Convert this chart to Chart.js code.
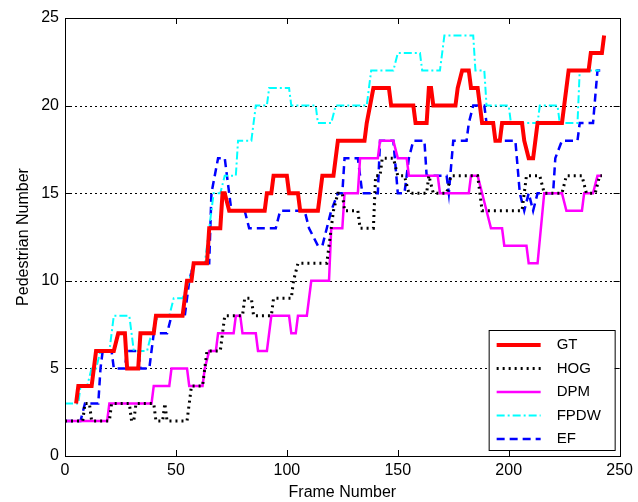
<!DOCTYPE html>
<html lang="en">
<head>
    <meta charset="UTF-8">
    <title>Pedestrian Number</title>
    <style>
        html, body { margin: 0; padding: 0; background: #fff; }
        .chart-container { position: relative; width: 638px; height: 502px; }
    </style>
    <script src="https://cdn.jsdelivr.net/npm/chart.js@4.4.1/dist/chart.umd.min.js"></script>
</head>
<body>
    <div class="chart-container">
        <canvas id="pedChart" width="638" height="502"></canvas>
    </div>

    <script>
        // Values: frame numbers where each count changes
        const gtFrames   = [5, 6, 12, 13, 14, 22, 24, 27, 28, 33, 34, 40, 41, 53, 54, 55, 57, 58, 64, 65, 70, 71, 72, 74, 90, 91, 93, 94, 100, 101, 105, 106, 114, 116, 121, 123, 135, 136, 139, 146, 147, 157, 158, 163, 164, 165, 166, 176, 177, 179, 182, 183, 186, 187, 188, 193, 194, 196, 197, 206, 207, 209, 211, 212, 213, 224, 225, 226, 227, 236, 237, 242, 243];
        const gtCounts   = [3, 4, 4, 5, 6, 6, 7, 7, 5, 5, 7, 7, 8, 8, 9, 10, 10, 11, 11, 13, 13, 15, 15, 14, 14, 15, 15, 16, 16, 15, 15, 14, 14, 16, 16, 18, 18, 19, 21, 21, 20, 20, 19, 19, 21, 21, 20, 20, 21, 22, 22, 21, 21, 20, 19, 19, 18, 18, 19, 19, 18, 17, 17, 18, 19, 19, 20, 21, 22, 22, 23, 23, 24];

        const hogFrames  = [0, 8, 9, 11, 12, 20, 21, 29, 30, 31, 32, 40, 41, 44, 45, 46, 55, 57, 62, 64, 70, 72, 80, 81, 84, 85, 93, 94, 102, 103, 105, 118, 120, 121, 123, 125, 126, 132, 133, 139, 140, 142, 143, 148, 150, 153, 155, 163, 164, 166, 172, 174, 186, 188, 206, 208, 214, 216, 224, 226, 233, 235, 239, 241, 242];
        const hogCounts  = [2, 2, 3, 3, 2, 2, 3, 3, 2, 2, 3, 3, 2, 2, 3, 2, 2, 4, 4, 6, 6, 8, 8, 9, 9, 8, 8, 9, 9, 10, 11, 11, 13, 14, 15, 15, 14, 14, 13, 13, 16, 16, 17, 17, 16, 16, 15, 15, 16, 15, 15, 16, 16, 14, 14, 16, 16, 15, 15, 16, 16, 15, 15, 16, 16];

        const dpmFrames  = [0, 19, 20, 39, 40, 47, 48, 55, 56, 62, 63, 65, 68, 69, 76, 77, 79, 80, 86, 87, 91, 92, 93, 101, 102, 104, 105, 109, 111, 119, 120, 125, 126, 132, 133, 141, 142, 148, 150, 154, 155, 168, 169, 182, 183, 186, 188, 190, 192, 197, 198, 208, 209, 213, 216, 224, 226, 233, 234, 238, 240, 242];
        const dpmCounts  = [2, 2, 3, 3, 4, 4, 5, 5, 4, 4, 5, 6, 6, 7, 7, 8, 8, 7, 7, 6, 6, 7, 8, 8, 7, 7, 8, 8, 10, 10, 13, 13, 15, 15, 17, 17, 18, 18, 17, 17, 16, 16, 15, 15, 16, 16, 15, 14, 13, 13, 12, 12, 11, 11, 15, 15, 14, 14, 15, 15, 16, 16];

        const fpdwFrames = [0, 6, 7, 10, 12, 14, 16, 20, 22, 29, 31, 37, 39, 42, 47, 49, 53, 56, 58, 63, 65, 67, 70, 72, 77, 78, 84, 86, 91, 92, 101, 102, 113, 114, 120, 122, 136, 138, 148, 150, 160, 161, 169, 171, 184, 185, 189, 190, 200, 201, 213, 214, 222, 223, 231, 232, 241];
        const fpdwCounts = [3, 3, 4, 4, 5, 5, 6, 6, 8, 8, 6, 6, 7, 8, 8, 9, 9, 10, 11, 11, 13, 15, 15, 16, 16, 18, 18, 20, 20, 21, 21, 20, 20, 19, 19, 20, 20, 22, 22, 23, 23, 22, 22, 24, 24, 22, 22, 20, 20, 19, 19, 20, 20, 19, 19, 22, 22];

        const efFrames   = [0, 7, 9, 15, 16, 17, 21, 22, 27, 28, 33, 34, 38, 40, 46, 48, 54, 56, 58, 65, 66, 69, 72, 74, 75, 81, 83, 95, 97, 108, 110, 114, 116, 118, 120, 123, 125, 126, 132, 134, 141, 142, 148, 150, 153, 155, 157, 162, 163, 172, 173, 175, 181, 182, 184, 189, 190, 193, 194, 203, 205, 207, 209, 211, 213, 220, 221, 224, 231, 232, 238, 240, 242];
        const efCounts   = [2, 2, 3, 3, 5, 6, 6, 5, 5, 6, 6, 5, 5, 7, 7, 8, 8, 10, 11, 11, 15, 17, 17, 15, 14, 14, 13, 13, 14, 14, 13, 12, 12, 13, 14, 15, 15, 17, 17, 15, 15, 18, 18, 15, 15, 17, 18, 18, 16, 16, 15, 18, 18, 19, 20, 20, 19, 19, 18, 18, 15, 14, 15, 14, 15, 15, 17, 18, 18, 19, 19, 22, 22];

        const xTicks = [0, 50, 100, 150, 200, 250];
        const yTicks = [0, 5, 10, 15, 20, 25];

        function toPoints(frames, counts) {
            return frames.map((f, i) => ({ x: f, y: counts[i] }));
        }

        const FONT = "'Liberation Sans', Arial, sans-serif";

        // Box, inward ticks and dotted grid (MATLAB look)
        const axesBox = {
            id: 'axesBox',
            beforeDatasetsDraw(chart) {
                const { ctx, chartArea: a, scales: { y } } = chart;
                ctx.save();
                ctx.strokeStyle = '#000';
                ctx.lineWidth = 1;
                ctx.setLineDash([2, 3]);
                yTicks.slice(1, -1).forEach(v => {
                    const py = Math.round(y.getPixelForValue(v)) + 0.5;
                    ctx.beginPath();
                    ctx.moveTo(a.left, py);
                    ctx.lineTo(a.right, py);
                    ctx.stroke();
                });
                ctx.restore();
            },
            afterDraw(chart) {
                const { ctx, chartArea: a, scales: { x, y } } = chart;
                ctx.save();
                ctx.strokeStyle = '#000';
                ctx.lineWidth = 1;
                ctx.setLineDash([]);
                ctx.strokeRect(Math.round(a.left) + 0.5, Math.round(a.top) + 0.5,
                    Math.round(a.right - a.left), Math.round(a.bottom - a.top));
                ctx.beginPath();
                xTicks.forEach(v => {
                    const px = Math.round(x.getPixelForValue(v)) + 0.5;
                    ctx.moveTo(px, a.bottom); ctx.lineTo(px, a.bottom - 6);
                    ctx.moveTo(px, a.top); ctx.lineTo(px, a.top + 6);
                });
                yTicks.forEach(v => {
                    const py = Math.round(y.getPixelForValue(v)) + 0.5;
                    ctx.moveTo(a.left, py); ctx.lineTo(a.left + 6, py);
                    ctx.moveTo(a.right, py); ctx.lineTo(a.right - 6, py);
                });
                ctx.stroke();
                ctx.restore();
            }
        };

        // Legend box inside the lower right corner
        const insideLegend = {
            id: 'insideLegend',
            afterDraw(chart) {
                const { ctx, chartArea: a } = chart;
                const left = a.right - 131, top = a.bottom - 126;
                const w = 126, h = 120;
                ctx.save();
                ctx.fillStyle = '#fff';
                ctx.fillRect(left, top, w, h);
                ctx.strokeStyle = '#000';
                ctx.lineWidth = 1;
                ctx.setLineDash([]);
                ctx.strokeRect(left + 0.5, top + 0.5, w, h);
                ctx.font = '15px ' + FONT;
                ctx.textBaseline = 'middle';
                chart.data.datasets.forEach((ds, i) => {
                    const cy = top + 15 + i * 23.5;
                    ctx.strokeStyle = ds.borderColor;
                    ctx.lineWidth = ds.borderWidth;
                    ctx.setLineDash(ds.borderDash || []);
                    ctx.beginPath();
                    ctx.moveTo(left + 8, cy);
                    ctx.lineTo(left + 52, cy);
                    ctx.stroke();
                    ctx.fillStyle = '#000';
                    ctx.fillText(ds.label, left + 68, cy);
                });
                ctx.restore();
            }
        };

        const ctx = document.getElementById('pedChart').getContext('2d');
        new Chart(ctx, {
            type: 'line',
            data: {
                datasets: [
                    { label: 'GT',   data: toPoints(gtFrames, gtCounts),     borderColor: '#ff0000', borderWidth: 4 },
                    { label: 'HOG',  data: toPoints(hogFrames, hogCounts),   borderColor: '#000000', borderWidth: 3, borderDash: [2, 4], borderCapStyle: 'butt' },
                    { label: 'DPM',  data: toPoints(dpmFrames, dpmCounts),   borderColor: '#ff00ff', borderWidth: 2.5 },
                    { label: 'FPDW', data: toPoints(fpdwFrames, fpdwCounts), borderColor: '#00ffff', borderWidth: 2, borderDash: [8, 3, 2, 3] },
                    { label: 'EF',   data: toPoints(efFrames, efCounts),     borderColor: '#0000ff', borderWidth: 2.5, borderDash: [8, 5] }
                ].map(d => Object.assign({ pointRadius: 0, tension: 0, fill: false }, d))
            },
            options: {
                responsive: false,
                animation: false,
                layout: { padding: { top: 18, right: 18, left: 0, bottom: 0 } },
                plugins: { legend: { display: false }, tooltip: { enabled: false } },
                scales: {
                    x: {
                        type: 'linear',
                        min: 0, max: 250,
                        grid: { display: false, drawTicks: false },
                        border: { display: false },
                        afterBuildTicks: s => { s.ticks = xTicks.map(v => ({ value: v })); },
                        afterFit: s => { s.height = 46; },
                        ticks: { color: '#000', padding: 5, maxRotation: 0, font: { family: FONT, size: 16 } },
                        title: { display: true, text: 'Frame Number', color: '#000', padding: { top: 0, bottom: 0 }, font: { family: FONT, size: 16 } }
                    },
                    y: {
                        min: 0, max: 25,
                        grid: { display: false, drawTicks: false },
                        border: { display: false },
                        afterBuildTicks: s => { s.ticks = yTicks.map(v => ({ value: v })); },
                        afterFit: s => { s.width = 65; },
                        ticks: { color: '#000', padding: 6, font: { family: FONT, size: 16 } },
                        title: { display: true, text: 'Pedestrian Number', color: '#000', padding: { top: 14, bottom: 0 }, font: { family: FONT, size: 16 } }
                    }
                }
            },
            plugins: [axesBox, insideLegend]
        });
    </script>
</body>
</html>
